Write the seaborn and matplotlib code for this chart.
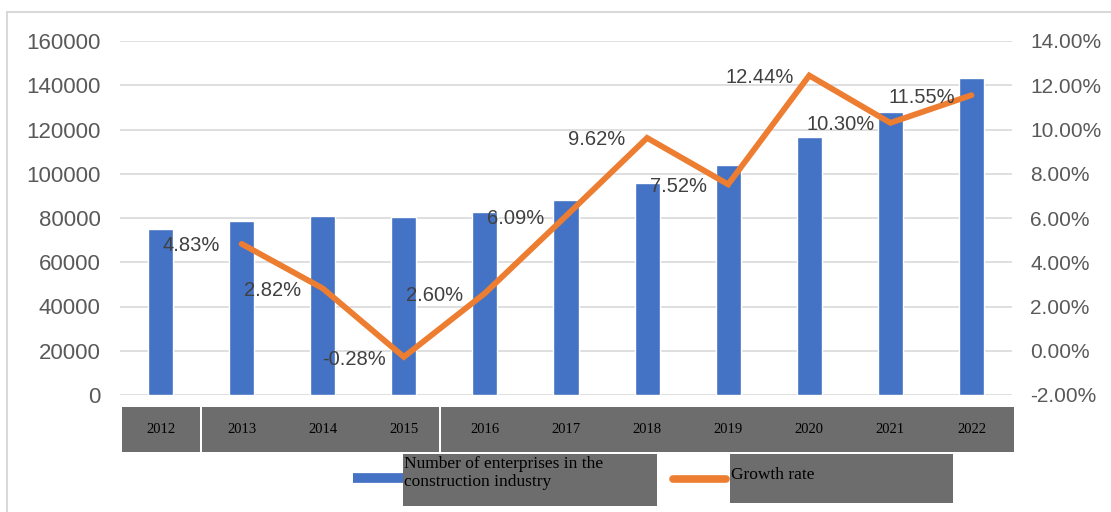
import matplotlib
matplotlib.use("Agg")
import matplotlib.pyplot as plt
from matplotlib.lines import Line2D
from matplotlib.patches import Rectangle
from matplotlib.ticker import FuncFormatter, MultipleLocator
import seaborn as sns
import pandas as pd

# Number of construction enterprises per year and the year-on-year growth rate
years = ["2012", "2013", "2014", "2015", "2016", "2017",
         "2018", "2019", "2020", "2021", "2022"]
enterprises = [75000, 78800, 80900, 80500, 82800, 88100,
               96000, 103900, 116700, 128100, 143400]
rate_years = ["2013", "2014", "2015", "2016", "2017",
              "2018", "2019", "2020", "2021", "2022"]
growth_rate = [4.83, 2.82, -0.28, 2.60, 6.09, 9.62, 7.52, 12.44, 10.30, 11.55]

bar_label = "Number of enterprises in the\nconstruction industry"
line_label = "Growth rate"

BLUE = "#4472C4"
ORANGE = "#ED7D31"
GRID = "#D9D9D9"
TICK = "#595959"
BOX = "#6D6D6D"
SERIF = ["Liberation Serif", "DejaVu Serif"]

sns.set_theme(style="white")
plt.rcParams["font.family"] = ["Liberation Sans", "DejaVu Sans"]

W, H = 1111, 512
fig = plt.figure(figsize=(W / 100, H / 100), dpi=100)


def fx(px):
    return px / W


def fy(py):
    return 1 - py / H


ax = fig.add_axes([fx(120), fy(395), fx(1012) - fx(120), fy(41) - fy(395)])

bars_df = pd.DataFrame({"year": years, "count": enterprises})
sns.barplot(data=bars_df, x="year", y="count", order=years, color=BLUE,
            saturation=1, width=0.31, ax=ax)

ax.set_xlim(-0.5, len(years) - 0.5)
ax.set_ylim(0, 160000)
ax.yaxis.set_major_locator(MultipleLocator(20000))
ax.set_axisbelow(True)
ax.grid(axis="y", color=GRID, linewidth=1.2)
ax.grid(axis="x", visible=False)
for s in ax.spines.values():
    s.set_visible(False)
ax.set_xlabel("")
ax.set_ylabel("")
ax.tick_params(axis="y", length=0, pad=14, labelsize=16, labelcolor=TICK)
ax.tick_params(axis="x", length=0, pad=20.5)
for lbl in ax.get_xticklabels():
    lbl.set_fontfamily(SERIF)
    lbl.set_fontsize(10.5)
    lbl.set_color("black")

# Growth rate on a secondary axis
ax2 = ax.twinx()
line_df = pd.DataFrame({"pos": [years.index(y) for y in rate_years],
                        "rate": growth_rate})
sns.lineplot(data=line_df, x="pos", y="rate", color=ORANGE, linewidth=4.2,
             ax=ax2, solid_joinstyle="miter")
ax2.set_ylim(-2, 14)
ax2.yaxis.set_major_locator(MultipleLocator(2))
ax2.yaxis.set_major_formatter(FuncFormatter(lambda v, _: f"{v:.2f}%"))
ax2.tick_params(axis="y", length=0, pad=13, labelsize=15, labelcolor=TICK)
ax2.grid(False)
for s in ax2.spines.values():
    s.set_visible(False)
ax2.set_xlabel("")
ax2.set_ylabel("")
ax2.set_xlim(-0.5, len(years) - 0.5)

for p, v in zip(line_df["pos"], line_df["rate"]):
    ax2.annotate(f"{v:.2f}%", (p, v), xytext=(-36, -1.5),
                 textcoords="offset points", ha="center", va="center",
                 fontsize=14.5, color="#404040")

# Outer frame (top and left edges)
fig.add_artist(Line2D([fx(7), 1], [fy(12), fy(12)], color=GRID, linewidth=1.5))
fig.add_artist(Line2D([fx(7), fx(7)], [fy(12), 0], color=GRID, linewidth=1.5))

# Grey boxes behind the year labels
for x0, x1 in [(122, 200), (202, 439), (441, 1014)]:
    fig.patches.append(Rectangle((fx(x0), fy(452)), fx(x1) - fx(x0),
                                 fy(407) - fy(452), transform=fig.transFigure,
                                 facecolor=BOX, edgecolor="none", zorder=-1))

# Legend
for x0, x1, y1 in [(403, 657, 506), (730, 953, 503)]:
    fig.patches.append(Rectangle((fx(x0), fy(y1)), fx(x1) - fx(x0),
                                 fy(454) - fy(y1), transform=fig.transFigure,
                                 facecolor=BOX, edgecolor="none", zorder=-1))
fig.add_artist(Line2D([fx(353), fx(403)], [fy(478), fy(478)], color=BLUE,
                      linewidth=7, solid_capstyle="butt"))
fig.add_artist(Line2D([fx(673), fx(726)], [fy(479), fy(479)], color=ORANGE,
                      linewidth=5.5, solid_capstyle="round"))
fig.text(fx(404), fy(456), bar_label, ha="left", va="top", fontsize=12.5,
         linespacing=1.2, color="black", family=SERIF)
fig.text(fx(731), fy(475), line_label, ha="left", va="center", fontsize=12.5,
         color="black", family=SERIF)

fig.savefig("out.png", dpi=100)
